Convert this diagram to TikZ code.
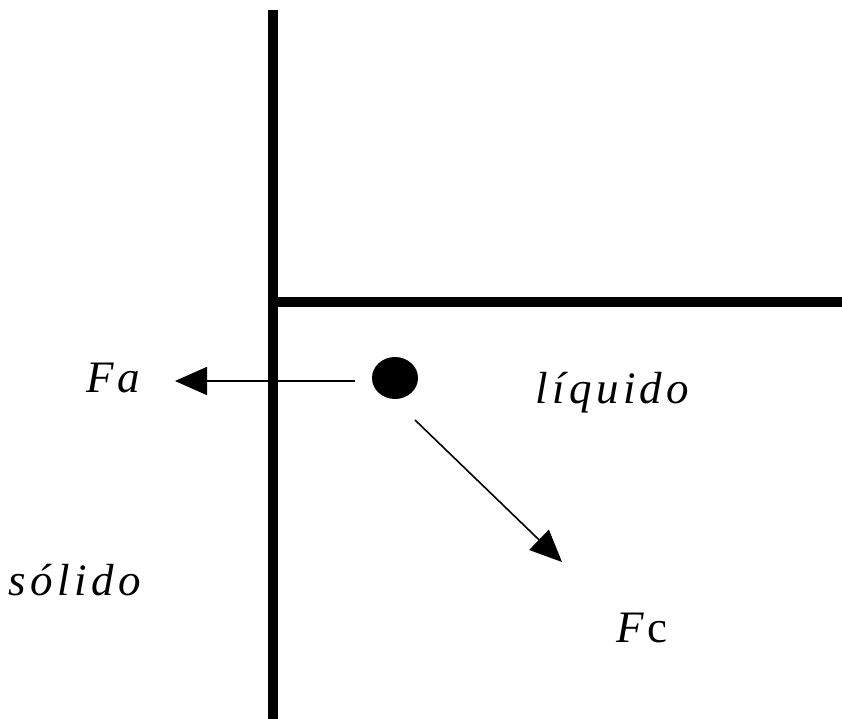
\documentclass[tikz,border=0pt]{standalone}
\usepackage{fontspec}
\setmainfont{Liberation Serif}
\usetikzlibrary{arrows.meta,shapes.geometric}
\begin{document}
\begin{tikzpicture}[x=1pt,y=-1pt,
  wall/.style={line width=10pt},
  force/.style={line width=1.6pt,-{Triangle[length=32pt,width=28pt]}},
  lbl/.style={inner sep=0pt,font=\fontsize{45}{48}\selectfont\itshape\addfontfeature{LetterSpace=10}}]
\useasboundingbox (0,0) rectangle (842,719);
\coordinate (vtop) at (273,10);
\coordinate (vbot) at (273,719);
\coordinate (hl) at (273,302);
\coordinate (hr) at (842,302);
\draw[wall] (vtop) -- (vbot);
\draw[wall] (hl) -- (hr);
\node[fill=black,ellipse,minimum width=46pt,minimum height=42pt,inner sep=0pt] (dot) at (395,378) {};
\coordinate (fastart) at (355,381);
\coordinate (faend) at (175,381);
\draw[force] (fastart) -- (faend);
\coordinate (fcstart) at (415,420);
\coordinate (fcend) at (562,562);
\draw[force] (fcstart) -- (fcend);
\node[lbl] (fa) at (113,378) {F\kern4pt a};
\node[lbl] (liq) at (612,393) {líqui\kern4pt do};
\node[lbl] (sol) at (75,580) {sólido};
\node[lbl] (fc) at (642,628) {F\kern4pt{\upshape c}};
\end{tikzpicture}
\end{document}
